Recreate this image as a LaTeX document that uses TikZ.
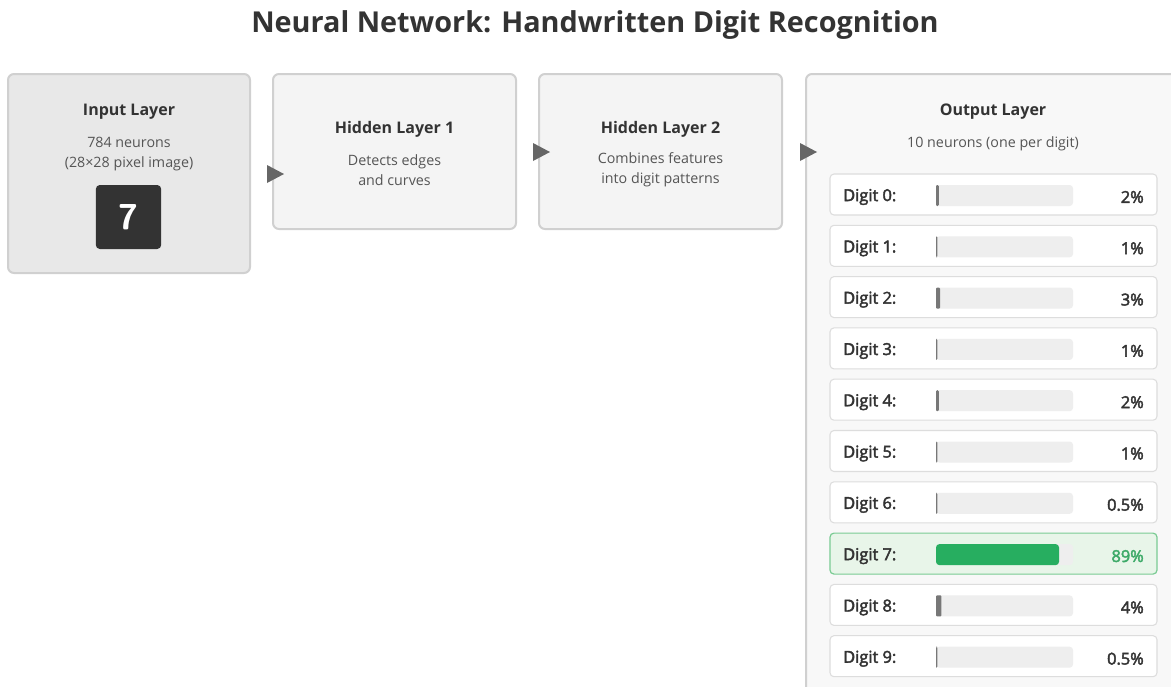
\documentclass[tikz,border=0pt]{standalone}
\usepackage{fontspec}
\setmainfont{Open Sans}
\newfontfamily\semifont[FakeBold=2.6]{Open Sans}
\usetikzlibrary{positioning}
\definecolor{txt}{HTML}{333333}
\definecolor{sub}{HTML}{555555}
\definecolor{bordc}{HTML}{D0D0D0}
\definecolor{inputbg}{HTML}{E8E8E8}
\definecolor{hidbg}{HTML}{F4F4F4}
\definecolor{outbg}{HTML}{F8F8F8}
\definecolor{arrowc}{HTML}{666666}
\definecolor{trackc}{HTML}{EEEEEE}
\definecolor{barc}{HTML}{777777}
\definecolor{greenbar}{HTML}{27AE60}
\definecolor{greenbg}{HTML}{E8F5E9}
\definecolor{greenbd}{HTML}{7ACB93}
\definecolor{greentx}{HTML}{3DAA68}
\definecolor{rowbd}{HTML}{DDDDDD}
\tikzset{
  layerbox/.style={draw=bordc, line width=1.5pt, rounded corners=4.5pt},
  ltitle/.style={font=\bfseries\fontsize{12}{14}\selectfont, text=txt},
  lsub/.style={font=\fontsize{10.7}{15}\selectfont, text=sub, align=center},
  rowbox/.style={draw=rowbd, line width=0.8pt, fill=white, rounded corners=3pt},
  rowlab/.style={font=\semifont\fontsize{12.3}{14}\selectfont, text=txt, anchor=west, inner sep=0pt},
  rowpct/.style={font=\semifont\fontsize{12.3}{14}\selectfont, text=txt, anchor=east, inner sep=0pt},
  tri/.style={fill=arrowc}
}
\begin{document}
\begin{tikzpicture}[x=0.75pt,y=-0.75pt]
\useasboundingbox[fill=white] (0,0) rectangle (1171,686);
% title
\node[font=\bfseries\fontsize{21.6}{26}\selectfont, text=txt] (title) at (595,25) {Neural Network: Handwritten Digit Recognition};
% input layer
\draw[layerbox, fill=inputbg] (8,74) rectangle (250,273);
\node[ltitle] (inT) at (129,112) {Input Layer};
\node[lsub] (inS) at (129,154) {784 neurons\\(28×28 pixel image)};
\node[fill=txt, rounded corners=3pt, minimum width=49pt, minimum height=48pt, text=white, font=\bfseries\fontsize{27}{30}\selectfont\sffamily] (seven) at (128.5,217) {7};
% hidden 1
\draw[layerbox, fill=hidbg] (273,74) rectangle (516,229);
\node[ltitle] (h1T) at (394.5,129) {Hidden Layer 1};
\node[lsub] (h1S) at (394.5,170) {Detects edges\\and curves};
% hidden 2
\draw[layerbox, fill=hidbg] (539,74) rectangle (782,229);
\node[ltitle] (h2T) at (660.5,129) {Hidden Layer 2};
\node[lsub] (h2S) at (660.5,170) {Combines features\\into digit patterns};
% output
\draw[layerbox, fill=outbg] (806,74) rectangle (1181,705);
\node[ltitle] (oT) at (993,112) {Output Layer};
\node[lsub] (oS) at (993,144) {10 neurons (one per digit)};
% arrows
\fill[tri] (267,165) -- (284,174) -- (267,183) -- cycle;
\fill[tri] (533,143) -- (550,152) -- (533,161) -- cycle;
\fill[tri] (800,143) -- (817,152) -- (800,161) -- cycle;
% rows
\foreach \d/\p/\t in {0/2/2\%,1/1/1\%,2/3/3\%,3/1/1\%,4/2/2\%,5/1/1\%,6/0.5/0.5\%,8/4/4\%,9/0.5/0.5\%}{
  \pgfmathsetmacro{\top}{174+\d*51.3}
  \draw[rowbox] (830,\top) rectangle (1157,\top+41);
  \node[rowlab] at (843,\top+23) {Digit \d:};
  \fill[trackc, rounded corners=2.5pt] (936,\top+11) rectangle (1073,\top+32);
  \pgfmathsetmacro{\w}{max(1.3,137*\p/100)}
  \fill[barc, rounded corners=0.8pt] (936,\top+11) rectangle (936+\w,\top+32);
  \node[rowpct] at (1144,\top+23) {\t};
}
% highlighted digit 7
\pgfmathsetmacro{\top}{174+7*51.3}
\draw[draw=greenbd, line width=0.9pt, fill=greenbg, rounded corners=3pt] (830,\top) rectangle (1157,\top+41);
\node[rowlab] (d7) at (843,\top+23) {Digit 7:};
\fill[trackc, rounded corners=2.5pt] (936,\top+11) rectangle (1073,\top+32);
\fill[greenbar, rounded corners=2.5pt] (936,\top+11) rectangle (1059,\top+32);
\node[rowpct, text=greentx] (p7) at (1144,\top+23) {89\%};
\end{tikzpicture}
\end{document}
